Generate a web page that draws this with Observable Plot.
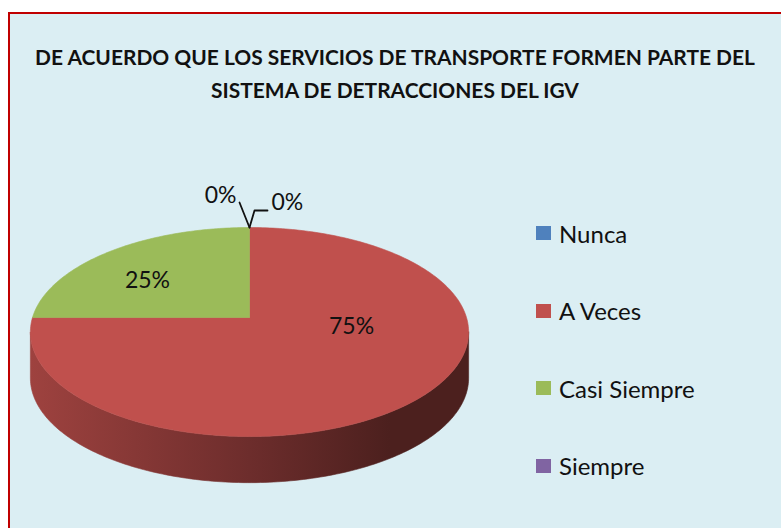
<!DOCTYPE html>
<html><head><meta charset="utf-8">
<script src="https://cdn.jsdelivr.net/npm/d3@7"></script>
<script src="https://cdn.jsdelivr.net/npm/@observablehq/plot@0.6"></script>
<style>
html,body{margin:0;padding:0;background:#fff;width:781px;height:528px;overflow:hidden;font-family:Lato,"Open Sans",sans-serif;}
#frame{position:absolute;left:8px;top:12px;width:800px;height:540px;background:#DBEEF3;border-left:2px solid #C00000;border-top:2px solid #C00000;}
#title{position:absolute;left:10px;width:770px;top:40px;text-align:center;font-weight:700;font-size:22px;line-height:33px;color:#111;white-space:nowrap;}
#title span{display:inline-block;}
#chart{position:absolute;left:0;top:0;}
.lg{position:absolute;left:536px;height:26px;display:flex;align-items:center;font-size:24px;color:#111;white-space:nowrap;}
.lg i{display:inline-block;width:15px;height:14px;margin-right:8px;}
</style></head>
<body>
<div id="frame"></div>
<div id="title"><span id="t1">DE ACUERDO QUE LOS SERVICIOS DE TRANSPORTE FORMEN PARTE DEL</span><br><span id="t2">SISTEMA DE DETRACCIONES DEL IGV</span></div>
<div id="chart"></div>
<div id="legend"></div>
<script>
const categories = ["Nunca", "A Veces", "Casi Siempre", "Siempre"];
const percents = [0, 75, 25, 0];
const colors = ["#4F81BD", "#C0504D", "#9BBB59", "#8064A2"];

// fit title width
const t1 = document.getElementById("t1");
const w1 = t1.getBoundingClientRect().width;
document.getElementById("title").style.fontSize = (22 * 720 / w1) + "px";

// projection of tilted pie (slight perspective)
const K = 0.139;       // perspective factor
const DEPTH = 0.45;    // side depth in y units
const rad = d => d * Math.PI / 180;
function proj(deg, r = 1) {
  const c = Math.cos(rad(deg)), s = Math.sin(rad(deg));
  const den = 1 + K * r * c;
  return [r * s / den, -r * c / den];
}

let cum = 0;
const slices = percents.map((p, i) => {
  const s = {i, name: categories[i], p, color: colors[i], start: cum * 3.6, end: (cum + p) * 3.6};
  cum += p;
  return s;
});

function arc(a, b) {
  const pts = [];
  const n = Math.max(2, Math.ceil(Math.abs(b - a)));
  for (let j = 0; j <= n; j++) pts.push(a + (b - a) * j / n);
  return pts;
}

// visible side range
const sideA = Math.acos(-K) * 180 / Math.PI, sideB = 360 - sideA;

const marks = [];
// sides
slices.forEach(s => {
  const a = Math.max(s.start, sideA), b = Math.min(s.end, sideB);
  if (s.p > 0 && b > a) {
    const top = arc(a, b).map(t => { const [x, y] = proj(t); return {x, y}; });
    const bot = arc(b, a).map(t => { const [x, y] = proj(t); return {x, y: y + DEPTH}; });
    marks.push(Plot.line([...top, ...bot, top[0]], {x: "x", y: "y", fill: `url(#side${s.i})`, stroke: `url(#side${s.i})`, strokeWidth: 0.6, curve: "linear"}));
  }
});
// top faces
slices.forEach(s => {
  if (s.p > 0) {
    const pts = [{x: 0, y: 0}, ...arc(s.start, s.end).map(t => { const [x, y] = proj(t); return {x, y}; }), {x: 0, y: 0}];
    marks.push(Plot.line(pts, {x: "x", y: "y", fill: s.color, stroke: s.color, strokeWidth: 0.6, curve: "linear"}));
  }
});
// inside labels
const LR = 0.665, LF = 0.477;
const inside = slices.filter(s => s.p > 0).map(s => {
  const m = (s.start + s.end) / 2;
  return {x: LR * Math.sin(rad(m)), y: -LR * Math.cos(rad(m)) * LF, label: s.p + "%"};
});
marks.push(Plot.text(inside, {x: "x", y: "y", text: "label", fontSize: 23, fill: "#111", fontFamily: "Lato", dy: -14}));

// zero-value labels with leader lines
const PX = 217, PY = 102.5;
const [tx, ty] = proj(0);
slices.filter(s => s.p === 0).forEach(s => {
  const right = s.start < 180;
  const path = right
    ? [[0, 0], [5, -17], [18, -17]]
    : [[0, 0], [-10, -25]];
  marks.push(Plot.line(path.map(([dx, dy]) => ({x: tx + dx / PX, y: ty + dy / PY})), {x: "x", y: "y", stroke: "#111", strokeWidth: 1.8}));
  marks.push(Plot.text([{x: tx, y: ty, label: s.p + "%"}], {
    x: "x", y: "y", text: "label", fontSize: 23, fill: "#111", fontFamily: "Lato",
    textAnchor: right ? "start" : "end", dx: right ? 22 : -13, dy: right ? -25 : -32
  }));
});

const plot = Plot.plot({
  width: 781, height: 528, margin: 0,
  style: {background: "transparent", fontFamily: "Lato"},
  x: {domain: [-1, 1], range: [32, 466], axis: null},
  y: {domain: [-1, 1], range: [317 - PY, 317 + PY], axis: null},
  marks
});
const defs = d3.select(plot).insert("defs", ":first-child");
slices.forEach(s => {
  const g = defs.append("linearGradient").attr("id", `side${s.i}`).attr("x1", 0).attr("x2", 1).attr("y1", 0).attr("y2", 0);
  [[0, 0.55], [0.5, 1.6], [0.82, 2.6], [1, 2.6]].forEach(([o, d]) =>
    g.append("stop").attr("offset", o).attr("stop-color", d3.color(s.color).darker(d).formatHex()));
});
document.getElementById("chart").append(plot);

// legend
const lg = d3.select("#legend");
categories.forEach((c, i) => {
  const item = lg.append("div").attr("class", "lg").style("top", (233 - 13 + i * 77.6) + "px");
  item.append("i").style("background", colors[i]);
  item.append("span").text(c);
});
</script>
</body></html>
